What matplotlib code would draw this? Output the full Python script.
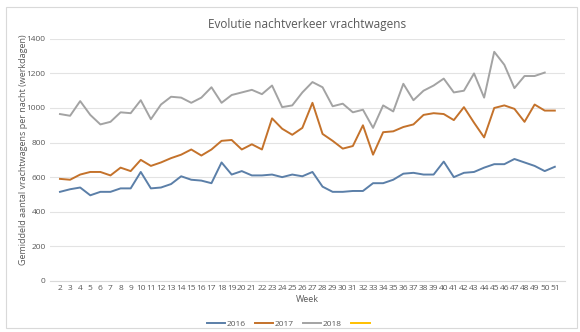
import matplotlib
matplotlib.use('Agg')
import matplotlib.pyplot as plt
from matplotlib.patches import Rectangle

weeks = list(range(2, 52))

y2016 = [515, 530, 540, 495, 515, 515, 535, 535, 630, 535,
         540, 560, 605, 585, 580, 565, 685, 615, 635, 610,
         610, 615, 600, 615, 605, 630, 545, 515, 515, 520,
         520, 565, 565, 585, 620, 625, 615, 615, 690, 600,
         625, 630, 655, 675, 675, 705, 685, 665, 635, 660]

y2017 = [590, 585, 615, 630, 630, 610, 655, 635, 700, 665,
         685, 710, 730, 760, 725, 760, 810, 815, 760, 790,
         760, 940, 880, 845, 885, 1030, 850, 810, 765, 780,
         900, 730, 860, 865, 890, 905, 960, 970, 965, 930,
         1005, 915, 830, 1000, 1015, 995, 920, 1020, 985, 985]

# 2018 runs up to week 50
y2018 = [965, 955, 1040, 960, 905, 920, 975, 970, 1045, 935,
         1020, 1065, 1060, 1030, 1060, 1120, 1030, 1075, 1090, 1105,
         1080, 1130, 1005, 1015, 1090, 1150, 1120, 1010, 1025, 975,
         990, 885, 1015, 980, 1140, 1045, 1100, 1130, 1170, 1090,
         1100, 1200, 1060, 1325, 1250, 1115, 1185, 1185, 1205]

series = ['2016', '2017', '2018', ' ']
colors = ['#5B7FA8', '#C4722B', '#A3A3A3', '#FFC000']

plt.rcParams['font.family'] = ['Open Sans', 'DejaVu Sans']
text_color = '#595959'

fig = plt.figure(figsize=(5.8, 3.32), dpi=100)
fig.patches.append(Rectangle((0.010, 0.012), 0.985, 0.968, transform=fig.transFigure,
                             fill=False, edgecolor='#D9D9D9', linewidth=0.8))

ax = fig.add_axes([0.086, 0.154, 0.888, 0.729])
ax.plot(weeks, y2016, color=colors[0], linewidth=1.4, label=series[0])
ax.plot(weeks, y2017, color=colors[1], linewidth=1.4, label=series[1])
ax.plot(weeks[:len(y2018)], y2018, color=colors[2], linewidth=1.4, label=series[2])
# empty series, only shows up in the legend
ax.plot([], [], color=colors[3], linewidth=1.4, label=series[3])

ax.set_xlim(1, 52)
ax.set_ylim(0, 1400)
ax.set_xticks(weeks)
ax.set_yticks(range(0, 1401, 200))
ax.tick_params(axis='both', length=0, labelsize=6, colors=text_color, pad=3)
ax.grid(axis='y', color='#E3E3E3', linewidth=0.8)
ax.set_axisbelow(True)
for s in ax.spines.values():
    s.set_visible(False)
ax.spines['bottom'].set_visible(True)
ax.spines['bottom'].set_color('#D9D9D9')

ax.set_title('Evolutie nachtverkeer vrachtwagens', fontsize=8.5, color=text_color, pad=8)
ax.set_xlabel('Week', fontsize=6.5, color=text_color, labelpad=2)
ax.set_ylabel('Gemiddeld aantal vrachtwagens per nacht (werkdagen)', fontsize=6.5,
              color=text_color)
ax.yaxis.set_label_coords(-0.042, 0.54)

fig.legend(loc='lower center', bbox_to_anchor=(0.5, -0.01), ncol=4, frameon=False,
           fontsize=6, labelcolor=text_color, handlelength=2.2, columnspacing=1.1,
           handletextpad=0.2)

fig.savefig('out.png', dpi=100)
